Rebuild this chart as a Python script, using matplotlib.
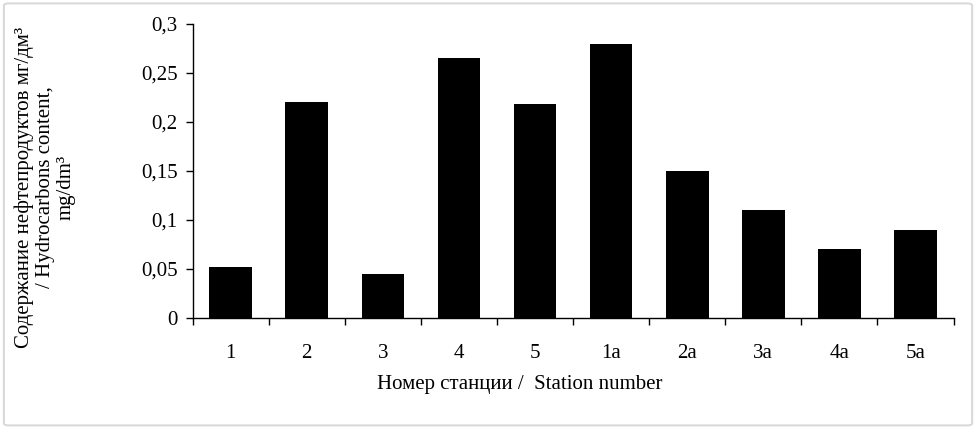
import numpy as np
import matplotlib.pyplot as plt
from matplotlib.patches import FancyBboxPatch

stations = ["1", "2", "3", "4", "5", "1a", "2a", "3a", "4a", "5a"]
hydrocarbons = [0.052, 0.22, 0.045, 0.265, 0.218, 0.28, 0.15, 0.11, 0.07, 0.09]
yticks = [0, 0.05, 0.1, 0.15, 0.2, 0.25, 0.3]

plt.rcParams['font.family'] = ['Liberation Serif', 'DejaVu Serif']
fs = 15

fig = plt.figure(figsize=(9.78, 4.28), dpi=100)
ax = fig.add_axes([0.197, 0.257, 0.778, 0.687])

x = np.arange(len(stations))
ax.bar(x, hydrocarbons, width=0.56, color='black')

ax.set_xlim(-0.5, len(stations) - 0.5)
ax.set_ylim(0, 0.3)
ax.set_yticks(yticks)
ax.set_yticklabels([f"{v:g}".replace('.', ',') for v in yticks], fontsize=fs)
ax.set_xticks(x)
ax.set_xticklabels(stations, fontsize=fs)
ax.tick_params(axis='x', which='major', length=0, pad=19)
ax.set_xticks(np.arange(-0.5, len(stations)), minor=True)
ax.tick_params(axis='x', which='minor', length=5, width=1, direction='out')
ax.tick_params(axis='y', length=5, width=1, direction='out', pad=6)

for s in ['top', 'right']:
    ax.spines[s].set_visible(False)
for s in ['left', 'bottom']:
    ax.spines[s].set_linewidth(1)

# x label sits left of the axes centre in the original
ax.set_xlabel("Номер станции /  Station number", fontsize=fs)
ax.xaxis.set_label_coords(0.43, -0.195)
fig.text(0.046, 0.563, "Содержание нефтепродуктов мг/дм³\n/ Hydrocarbons content,\nmg/dm³",
         rotation=90, ha='center', va='center', fontsize=fs, linespacing=1.1,
         multialignment='center')

border = FancyBboxPatch((0.004, 0.006), 0.99, 0.986, boxstyle="round,pad=0,rounding_size=0.005",
                        transform=fig.transFigure, fill=False, edgecolor='#d9d9d9', linewidth=1.5)
fig.patches.append(border)

fig.savefig("out.png", dpi=100)
